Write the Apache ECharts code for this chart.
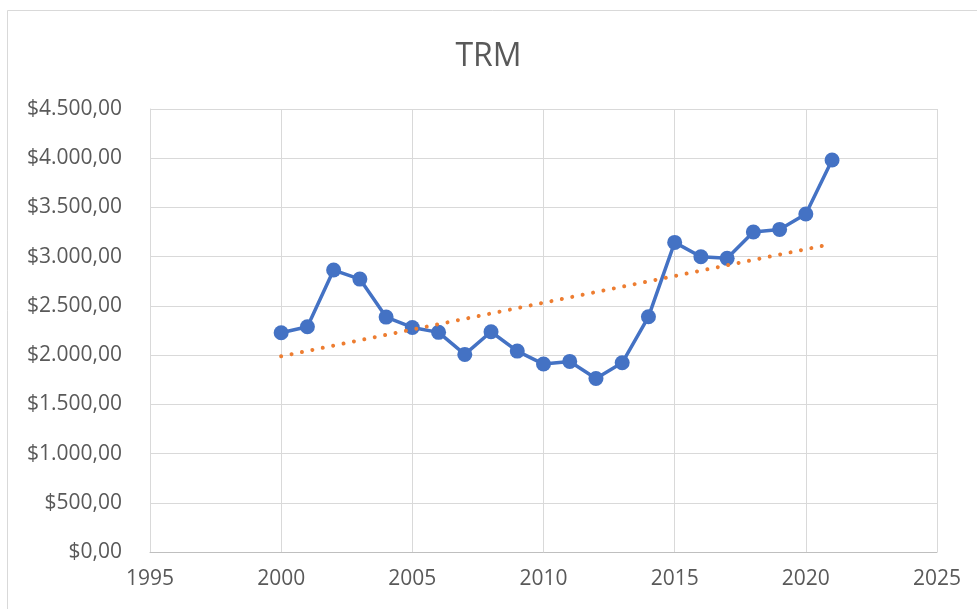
<!DOCTYPE html>
<html>
<head>
<meta charset="utf-8">
<script src="https://cdn.jsdelivr.net/npm/echarts@6/dist/echarts.min.js"></script>
<style>
  html, body { margin: 0; padding: 0; background: #fff; }
  #chart { width: 977px; height: 609px; }
</style>
</head>
<body>
<div id="chart"></div>
<script>
// datos TRM (promedio anual)
const years = [2000, 2001, 2002, 2003, 2004, 2005, 2006, 2007, 2008, 2009, 2010,
  2011, 2012, 2013, 2014, 2015, 2016, 2017, 2018, 2019, 2020, 2021];
const trm = [2227, 2288, 2864, 2772, 2386, 2281, 2231, 2007, 2237, 2041, 1909,
  1936, 1763, 1922, 2389, 3145, 2999, 2983, 3250, 3277, 3433, 3982];
// linea de tendencia (extremos)
const trendYears = [2000, 2021];
const trendValues = [1988, 3130];

// $4.500,00
const money = v => {
  let parts = v.toFixed(2).split('.');
  let ent = parts[0].replace(/\B(?=(\d{3})+(?!\d))/g, '.');
  return '$' + ent + ',' + parts[1];
};

const chart = echarts.init(document.getElementById('chart'));
const font = 'Open Sans';

chart.setOption({
  backgroundColor: '#fff',
  animation: false,
  graphic: [
    {
      type: 'rect',
      shape: { x: 7.5, y: 10.5, width: 980, height: 620 },
      style: { fill: 'none', stroke: '#d9d9d9', lineWidth: 1 },
      silent: true
    }
  ],
  title: {
    text: 'TRM',
    left: 'center',
    top: 36,
    textStyle: { color: '#595959', fontSize: 32, fontWeight: 'normal', fontFamily: font }
  },
  grid: { left: 150, right: 40, top: 109, bottom: 57 },
  xAxis: {
    type: 'value',
    min: 1995,
    max: 2025,
    interval: 5,
    axisLine: { show: true, lineStyle: { color: '#bfbfbf', width: 1 } },
    axisTick: { show: false },
    splitLine: { show: true, lineStyle: { color: '#d9d9d9', width: 1 } },
    axisLabel: { color: '#595959', fontSize: 21, fontFamily: font, margin: 17, formatter: v => String(v) }
  },
  yAxis: {
    type: 'value',
    min: 0,
    max: 4500,
    interval: 500,
    axisLine: { show: true, lineStyle: { color: '#d9d9d9', width: 1 } },
    axisTick: { show: false },
    splitLine: { show: true, lineStyle: { color: '#d9d9d9', width: 1 } },
    axisLabel: { color: '#595959', fontSize: 21, fontFamily: font, margin: 28, formatter: money }
  },
  series: [
    {
      name: 'TRM',
      type: 'line',
      data: years.map((y, i) => [y, trm[i]]),
      symbol: 'circle',
      symbolSize: 15,
      lineStyle: { color: '#4472C4', width: 3.5 },
      itemStyle: { color: '#4472C4' },
      z: 3
    },
    {
      name: 'Tendencia',
      type: 'line',
      data: trendYears.map((y, i) => [y, trendValues[i]]),
      symbol: 'none',
      lineStyle: { color: '#ED7D31', width: 4, type: [0.01, 10.6], cap: 'round' },
      z: 4
    }
  ]
});
</script>
</body>
</html>
